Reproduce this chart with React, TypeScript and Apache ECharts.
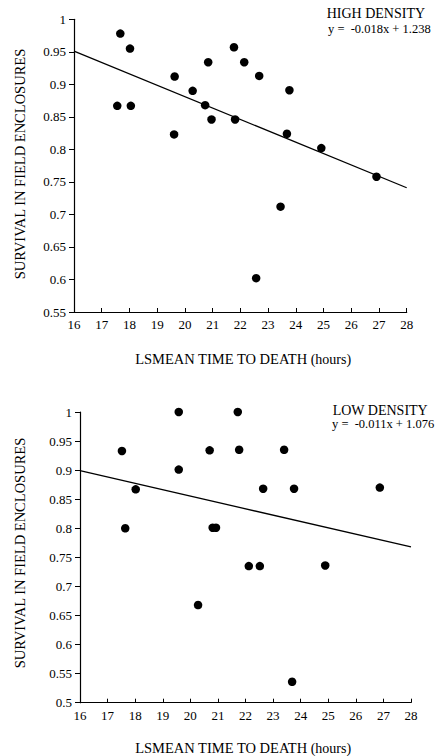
import React, { useEffect, useRef } from "react";
import * as echarts from "echarts";

const highTime = [17.67, 18.02, 17.56, 18.05, 19.63, 19.61, 20.28, 20.84, 20.73, 20.96, 21.77, 21.81, 22.14, 22.68, 23.77, 23.68, 24.92, 26.91, 23.45, 22.57];
const highSurvival = [0.978, 0.955, 0.867, 0.867, 0.912, 0.823, 0.89, 0.934, 0.868, 0.846, 0.957, 0.846, 0.934, 0.913, 0.891, 0.824, 0.802, 0.758, 0.712, 0.602];
const highFit = [[16, 0.951], [28, 0.741]];

const lowTime = [17.52, 17.64, 18.02, 19.58, 19.58, 20.7, 20.81, 20.93, 21.72, 21.77, 22.64, 23.4, 23.76, 26.87, 20.28, 22.12, 22.52, 24.89, 23.69];
const lowSurvival = [0.933, 0.8, 0.867, 1.0, 0.901, 0.934, 0.801, 0.801, 1.0, 0.935, 0.868, 0.935, 0.868, 0.87, 0.668, 0.735, 0.735, 0.736, 0.536];
const lowFit = [[16, 0.899], [28, 0.768]];

const xTicks = { min: 16, max: 28, interval: 1 };
const highY = { min: 0.55, max: 1, interval: 0.05 };
const lowY = { min: 0.5, max: 1, interval: 0.05 };

const titles = ["HIGH DENSITY", "LOW DENSITY"];
const equations = ["y =  -0.018x + 1.238", "y =  -0.011x + 1.076"];
const yName = "SURVIVAL IN FIELD ENCLOSURES";
const xNameMain = "LSMEAN TIME TO DEATH";
const xNameUnit = "(hours)";

const FONT = '"Liberation Serif", "Times New Roman", serif';

export default function App() {
  const ref = useRef<HTMLDivElement>(null);
  useEffect(() => {
    if (!ref.current) return;
    const chart = echarts.init(ref.current, null, { renderer: "svg" });
    const axisCommon = {
      axisLine: { show: true, onZero: false, lineStyle: { color: "#000", width: 1.2 } },
      splitLine: { show: false },
      axisLabel: { color: "#000", fontFamily: FONT, fontSize: 13 },
    };
    const xAxis = (gi: number) => ({
      type: "value",
      gridIndex: gi,
      ...xTicks,
      ...axisCommon,
      axisTick: { show: true, inside: true, length: 4, lineStyle: { color: "#000" } },
      axisLabel: { ...axisCommon.axisLabel, margin: 6 },
    });
    const yAxis = (gi: number, r: any) => ({
      type: "value",
      gridIndex: gi,
      ...r,
      ...axisCommon,
      axisTick: { show: true, inside: false, length: 5, lineStyle: { color: "#000" } },
      axisLabel: { ...axisCommon.axisLabel, margin: 8 },
    });
    const pts = (xs: number[], ys: number[]) => xs.map((x, i) => [x, ys[i]]);
    const scatter = (gi: number, data: number[][]) => ({
      type: "scatter",
      xAxisIndex: gi,
      yAxisIndex: gi,
      data,
      symbol: "circle",
      symbolSize: 8.5,
      itemStyle: { color: "#000", opacity: 1 },
    });
    const fit = (gi: number, data: number[][]) => ({
      type: "line",
      xAxisIndex: gi,
      yAxisIndex: gi,
      data,
      showSymbol: false,
      lineStyle: { color: "#000", width: 1.3 },
    });
    const textEl = (x: number, y: number, text: string, size: number, extra: any = {}) => ({
      type: "text",
      x,
      y,
      ...extra,
      style: { text, fontFamily: FONT, fontSize: size, fill: "#000", ...(extra.style || {}) },
    });
    const yLabel = (y: number) => ({
      type: "text",
      x: 20,
      y,
      rotation: Math.PI / 2,
      style: { text: yName, fontFamily: FONT, fontSize: 14.5, fill: "#000", align: "center", verticalAlign: "middle" },
    });
    const xLabel = (y: number) => ({
      type: "text",
      x: 243,
      y,
      style: {
        text: `{a|${xNameMain}} {b|${xNameUnit}}`,
        align: "center",
        verticalAlign: "middle",
        rich: {
          a: { fontFamily: FONT, fontSize: 14.5, fill: "#000", color: "#000" },
          b: { fontFamily: FONT, fontSize: 14, fill: "#000", color: "#000" },
        },
      },
    });
    chart.setOption({
      animation: false,
      backgroundColor: "#fff",
      grid: [
        { left: 74, top: 19.3, width: 332.7, height: 292.7 },
        { left: 80, top: 412, width: 331, height: 290.7 },
      ],
      xAxis: [xAxis(0), xAxis(1)],
      yAxis: [yAxis(0, highY), yAxis(1, lowY)],
      series: [
        fit(0, highFit),
        scatter(0, pts(highTime, highSurvival)),
        fit(1, lowFit),
        scatter(1, pts(lowTime, lowSurvival)),
      ],
      graphic: [
        textEl(326.7, 13.5, titles[0], 14, { style: { verticalAlign: "middle" } }),
        textEl(328, 28.5, equations[0], 12.5, { style: { verticalAlign: "middle" } }),
        textEl(332.7, 410.7, titles[1], 14, { style: { verticalAlign: "middle" } }),
        textEl(332, 424, equations[1], 12.5, { style: { verticalAlign: "middle" } }),
        yLabel(164),
        yLabel(553),
        xLabel(359),
        xLabel(748),
      ],
    });
    return () => chart.dispose();
  }, []);
  return <div ref={ref} style={{ position: "fixed", left: 0, top: 0, width: 443, height: 756, background: "#fff" }} />;
}
